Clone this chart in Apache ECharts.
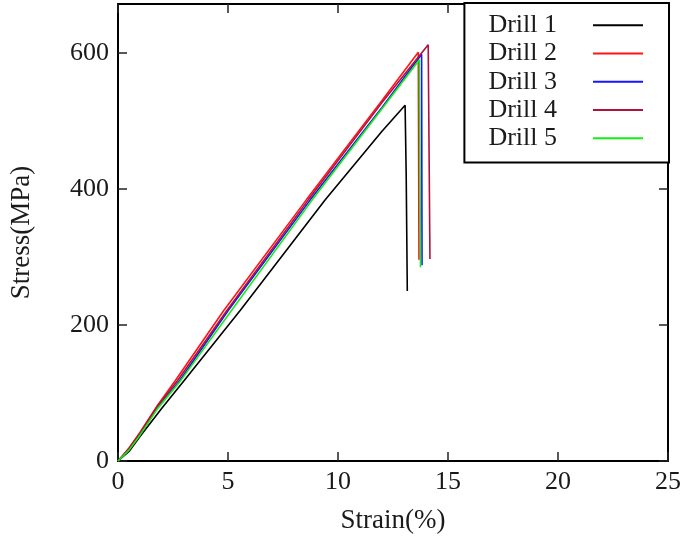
<!DOCTYPE html>
<html>
<head>
<meta charset="utf-8">
<script src="https://cdn.jsdelivr.net/npm/echarts@6/dist/echarts.min.js"></script>
<style>
html,body{margin:0;padding:0;background:#fff;}
#c{width:685px;height:541px;}
</style>
</head>
<body>
<div id="c"></div>
<script>
const seriesNames = ['Drill 1', 'Drill 2', 'Drill 3', 'Drill 4', 'Drill 5'];
const xTicks = [0, 5, 10, 15, 20, 25];
const yTicks = [0, 200, 400, 600];

const strain1 = [0, 0.5, 1, 2, 3, 5.57, 9.42, 12, 13.05, 13.1, 13.15];
const stress1 = [0, 14, 36, 78, 118, 222, 384, 485, 523, 420, 250];

const strain2 = [0, 0.5, 1, 1.8, 2.6, 4.8, 8.56, 12, 13.65, 13.68];
const stress2 = [0, 19, 42, 82, 118, 221, 384, 530, 601, 296];

const strain3 = [0, 0.5, 1, 1.8, 2.8, 5.0, 8.74, 12, 13.8, 13.82];
const stress3 = [0, 17, 39, 79, 118, 221, 384, 520, 598, 288];

const strain4 = [0, 0.5, 1, 1.8, 2.7, 4.94, 8.65, 12, 14.1, 14.18];
const stress4 = [0, 18, 41, 81, 118, 221, 384, 527, 612, 297];

const strain5 = [0, 0.5, 1, 1.8, 2.8, 5.15, 8.83, 12, 13.7, 13.75];
const stress5 = [0, 16, 38, 77, 116, 221, 384, 518, 590, 285];

const strains = [strain1, strain2, strain3, strain4, strain5];
const stresses = [stress1, stress2, stress3, stress4, stress5];
const colors = ['#000000', '#ff1515', '#1515ff', '#b0103a', '#12f012'];

const font = '"Liberation Serif", "DejaVu Serif", serif';

const chart = echarts.init(document.getElementById('c'), null, {renderer: 'canvas'});

const series = seriesNames.map((name, i) => ({
  name: name,
  type: 'line',
  xAxisIndex: 0,
  yAxisIndex: 0,
  showSymbol: false,
  symbol: 'none',
  color: colors[i],
  lineStyle: {color: colors[i], width: 1.6},
  data: strains[i].map((x, j) => [x, stresses[i][j]])
}));

const axisLineStyle = {show: true, onZero: false, lineStyle: {color: '#000', width: 2}};
const tickStyle = {show: true, inside: true, length: 9, lineStyle: {color: '#222', width: 1.5}};

chart.setOption({
  animation: false,
  backgroundColor: '#fff',
  grid: {left: 117, right: 17, top: 4, bottom: 80, containLabel: false},
  legend: {
    orient: 'vertical',
    right: 16,
    top: 3,
    align: 'right',
    icon: 'rect',
    itemWidth: 50,
    itemHeight: 2,
    itemGap: 0,
    padding: [8, 26, 10, 24],
    backgroundColor: '#fff',
    borderColor: '#000',
    borderWidth: 2,
    borderRadius: 0,
    textStyle: {fontFamily: font, fontSize: 26, color: '#1a1a1a', lineHeight: 28.3, padding: [0, 31, 0, 0]},
    data: seriesNames
  },
  xAxis: [{
    type: 'value', min: xTicks[0], max: xTicks[xTicks.length - 1], interval: 5,
    position: 'bottom',
    name: 'Strain(%)', nameLocation: 'middle', nameGap: 46,
    nameTextStyle: {fontFamily: font, fontSize: 27, color: '#1a1a1a'},
    axisLine: axisLineStyle, axisTick: tickStyle,
    axisLabel: {fontFamily: font, fontSize: 26, color: '#1a1a1a', margin: 8},
    splitLine: {show: false}
  }, {
    type: 'value', min: xTicks[0], max: xTicks[xTicks.length - 1], interval: 5,
    position: 'top',
    axisLine: axisLineStyle, axisTick: tickStyle,
    axisLabel: {show: false}, splitLine: {show: false}
  }],
  yAxis: [{
    type: 'value', min: yTicks[0], max: 672, interval: 200,
    position: 'left',
    name: 'Stress(MPa)', nameLocation: 'middle', nameGap: 83, nameRotate: 90,
    nameTextStyle: {fontFamily: font, fontSize: 27, color: '#1a1a1a'},
    axisLine: axisLineStyle, axisTick: tickStyle,
    axisLabel: {fontFamily: font, fontSize: 26, color: '#1a1a1a', margin: 9, showMaxLabel: false},
    splitLine: {show: false}
  }, {
    type: 'value', min: yTicks[0], max: 672, interval: 200,
    position: 'right',
    axisLine: axisLineStyle, axisTick: tickStyle,
    axisLabel: {show: false}, splitLine: {show: false}
  }],
  series: series
});
</script>
</body>
</html>
